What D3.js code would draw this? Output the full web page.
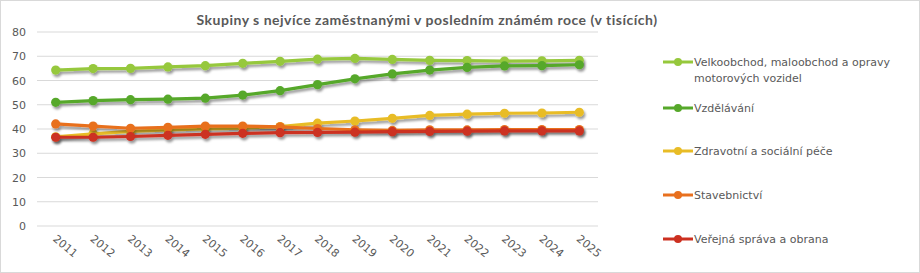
<!DOCTYPE html>
<html>
<head>
<meta charset="utf-8">
<script src="https://cdn.jsdelivr.net/npm/d3@7"></script>
<style>
  body { margin: 0; background: #fff; }
  text { font-family: "DejaVu Sans", sans-serif; }
</style>
</head>
<body>
<div id="chart-container"></div>
<script>
const years = ["2011","2012","2013","2014","2015","2016","2017","2018","2019","2020","2021","2022","2023","2024","2025"];
const seriesNames = [
  "Velkoobchod, maloobchod a opravy motorových vozidel",
  "Vzdělávání",
  "Zdravotní a sociální péče",
  "Stavebnictví",
  "Veřejná správa a obrana"
];
const velkoobchod = [64.3, 64.9, 65.0, 65.6, 66.1, 67.1, 67.9, 68.8, 69.1, 68.7, 68.3, 68.2, 68.0, 68.1, 68.3];
const vzdelavani = [51.0, 51.7, 52.1, 52.3, 52.7, 54.0, 55.8, 58.3, 60.7, 62.7, 64.3, 65.4, 66.0, 66.1, 66.5];
const zdravotni = [36.8, 38.0, 39.0, 39.6, 40.0, 40.4, 41.0, 42.4, 43.3, 44.4, 45.6, 46.1, 46.5, 46.6, 46.9];
const stavebnictvi = [42.1, 41.2, 40.3, 40.7, 41.2, 41.2, 40.9, 40.2, 39.7, 39.4, 39.7, 39.6, 39.8, 39.8, 39.8];
const verejna = [36.6, 36.6, 36.9, 37.4, 37.8, 38.2, 38.5, 38.6, 38.7, 38.9, 39.0, 39.1, 39.2, 39.2, 39.2];
const yTicks = [0, 10, 20, 30, 40, 50, 60, 70, 80];
const colors = ["#96c83c", "#56a82a", "#e8bc26", "#e8701e", "#cc3020"];

const allSeries = [velkoobchod, vzdelavani, zdravotni, stavebnictvi, verejna];

const W = 920, H = 273;
const plot = {left: 37, right: 598, top: 32, bottom: 226};

const svg = d3.select("#chart-container")
  .append("svg")
  .attr("width", W)
  .attr("height", H);

const defs = svg.append("defs");
defs.append("filter")
  .attr("id", "shadow")
  .attr("x", "-20%").attr("y", "-20%")
  .attr("width", "140%").attr("height", "160%")
  .append("feDropShadow")
  .attr("dx", 1.5).attr("dy", 2.5)
  .attr("stdDeviation", 1.3)
  .attr("flood-color", "#000")
  .attr("flood-opacity", 0.4);

svg.append("rect")
  .attr("x", 0.5).attr("y", 0.5)
  .attr("width", W - 1).attr("height", H - 1)
  .attr("fill", "#fff")
  .attr("stroke", "#d9d9d9");

svg.append("text")
  .attr("x", 427)
  .attr("y", 25)
  .attr("text-anchor", "middle")
  .style("font-family", "Lato, sans-serif")
  .style("font-size", "14px")
  .style("font-weight", "bold")
  .style("letter-spacing", "0.5px")
  .style("fill", "#595959")
  .text("Skupiny s nejvíce zaměstnanými v posledním známém roce (v tisících)");

const x = d3.scalePoint()
  .domain(years)
  .range([plot.left, plot.right])
  .padding(0.5);

const y = d3.scaleLinear()
  .domain([0, 80])
  .range([plot.bottom, plot.top]);

// gridlines
svg.append("g")
  .selectAll("line")
  .data(yTicks)
  .enter()
  .append("line")
  .attr("x1", plot.left)
  .attr("x2", plot.right)
  .attr("y1", d => y(d))
  .attr("y2", d => y(d))
  .attr("stroke", "#d9d9d9")
  .attr("stroke-width", 1);

// y axis labels
const yAxis = svg.append("g")
  .attr("transform", `translate(${plot.left},0)`)
  .call(d3.axisLeft(y).tickValues(yTicks).tickSize(0).tickPadding(11));
yAxis.select(".domain").remove();
yAxis.selectAll("text")
  .style("font-size", "11px")
  .style("fill", "#595959")
  .style("font-family", "DejaVu Sans, sans-serif");

// x axis labels
const xAxis = svg.append("g")
  .attr("transform", `translate(0,${plot.bottom})`)
  .call(d3.axisBottom(x).tickSize(0).tickPadding(0));
xAxis.select(".domain").remove();
xAxis.selectAll("text")
  .attr("y", 0)
  .attr("dy", 0)
  .attr("transform", "translate(-4,14) rotate(40)")
  .style("text-anchor", "start")
  .style("font-size", "11px")
  .style("fill", "#595959")
  .style("font-family", "DejaVu Sans, sans-serif");

const line = d3.line()
  .x((d, i) => x(years[i]))
  .y(d => y(d));

const seriesG = svg.selectAll(".series")
  .data(allSeries)
  .enter()
  .append("g")
  .attr("class", "series")
  .attr("filter", "url(#shadow)");

seriesG.append("path")
  .attr("d", d => line(d))
  .attr("fill", "none")
  .attr("stroke", (d, i) => colors[i])
  .attr("stroke-width", 3.2)
  .attr("stroke-linejoin", "round");

seriesG.each(function(vals, si) {
  d3.select(this).selectAll("circle")
    .data(vals)
    .enter()
    .append("circle")
    .attr("cx", (d, i) => x(years[i]))
    .attr("cy", d => y(d))
    .attr("r", 4.6)
    .attr("fill", colors[si]);
});

// legend
const legendY = [62, 108, 151, 195, 239];
const legend = svg.selectAll(".legend")
  .data(seriesNames)
  .enter()
  .append("g")
  .attr("class", "legend")
  .attr("transform", (d, i) => `translate(663,${legendY[i]})`);

legend.append("line")
  .attr("x1", 0).attr("x2", 30)
  .attr("y1", 0).attr("y2", 0)
  .attr("stroke", (d, i) => colors[i])
  .attr("stroke-width", 3);

legend.append("circle")
  .attr("cx", 15).attr("cy", 0)
  .attr("r", 4)
  .attr("fill", (d, i) => colors[i]);

legend.append("text")
  .attr("x", 31)
  .attr("y", 4)
  .style("font-size", "11px")
  .style("fill", "#595959")
  .each(function(d) {
    const t = d3.select(this);
    if (d.startsWith("Velkoobchod")) {
      t.append("tspan").attr("x", 31).text("Velkoobchod, maloobchod a opravy");
      t.append("tspan").attr("x", 31).attr("dy", 16).text("motorových vozidel");
    } else {
      t.text(d);
    }
  });
</script>
</body>
</html>
